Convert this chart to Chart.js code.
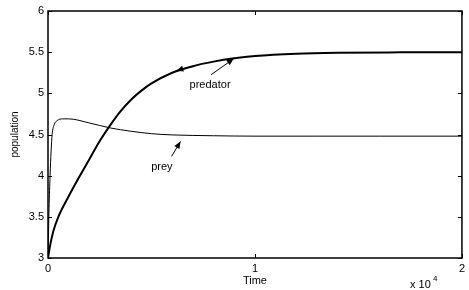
<!DOCTYPE html>
<html>
<head>
<meta charset="utf-8">
<script src="https://cdn.jsdelivr.net/npm/chart.js@4"></script>
<style>
  html, body { margin: 0; padding: 0; background: #fff; }
  #popChart { display: block; }
</style>
</head>
<body>
<canvas id="popChart" width="469" height="290"></canvas>
<script>
// time in units of 10^4
const preyTime = [0, 0.005, 0.01, 0.015, 0.02, 0.03, 0.045, 0.07, 0.1, 0.2, 0.3, 0.4, 0.5, 0.6, 0.8, 1.0, 1.3, 1.6, 2.0];
const preyValues = [3, 3.6, 4.0, 4.3, 4.5, 4.62, 4.67, 4.69, 4.69, 4.64, 4.58, 4.54, 4.51, 4.495, 4.485, 4.48, 4.48, 4.48, 4.48];

const predatorTime = [0, 0.01, 0.025, 0.05, 0.1, 0.15, 0.2, 0.25, 0.3, 0.35, 0.4, 0.45, 0.5, 0.6, 0.7, 0.8, 0.9, 1.0, 1.2, 1.4, 1.7, 2.0];
const predatorValues = [3, 3.15, 3.32, 3.5, 3.75, 3.98, 4.2, 4.42, 4.61, 4.78, 4.92, 5.03, 5.12, 5.25, 5.33, 5.385, 5.425, 5.452, 5.48, 5.492, 5.498, 5.5];

const xTicks = [0, 1, 2];
const yTicks = [3, 3.5, 4, 4.5, 5, 5.5, 6];

const toPoints = (xs, ys) => xs.map((x, i) => ({ x: x, y: ys[i] }));

// text annotations with arrows (data coordinates)
const labels = [
    { text: 'predator', x: 0.783, y: 5.105, from: [0.788, 5.226], to: [0.897, 5.42] },
    { text: 'prey', x: 0.55, y: 4.10, from: [0.597, 4.234], to: [0.64, 4.415] }
];

function arrowHead(ctx, x1, y1, x2, y2) {
    const a = Math.atan2(y2 - y1, x2 - x1);
    const len = 7, w = 3;
    ctx.beginPath();
    ctx.moveTo(x2, y2);
    ctx.lineTo(x2 - len * Math.cos(a) + w * Math.sin(a), y2 - len * Math.sin(a) - w * Math.cos(a));
    ctx.lineTo(x2 - len * Math.cos(a) - w * Math.sin(a), y2 - len * Math.sin(a) + w * Math.cos(a));
    ctx.closePath();
    ctx.fill();
}

const matlabAxes = {
    id: 'matlabAxes',
    afterDraw(chart) {
        const ctx = chart.ctx;
        const a = chart.chartArea;
        const xs = chart.scales.x, ys = chart.scales.y;
        ctx.save();
        ctx.strokeStyle = '#000';
        ctx.fillStyle = '#000';
        ctx.lineWidth = 1.5;
        ctx.strokeRect(a.left, a.top, a.right - a.left, a.bottom - a.top);

        // inward ticks
        ctx.lineWidth = 1;
        ctx.beginPath();
        xTicks.forEach(v => {
            const px = Math.round(xs.getPixelForValue(v)) + 0.5;
            ctx.moveTo(px, a.bottom); ctx.lineTo(px, a.bottom - 4);
            ctx.moveTo(px, a.top); ctx.lineTo(px, a.top + 4);
        });
        yTicks.forEach(v => {
            const py = Math.round(ys.getPixelForValue(v)) + 0.5;
            ctx.moveTo(a.left, py); ctx.lineTo(a.left + 4, py);
            ctx.moveTo(a.right, py); ctx.lineTo(a.right - 4, py);
        });
        ctx.stroke();

        // annotations
        ctx.font = '11px "Liberation Sans", Arial, sans-serif';
        ctx.textAlign = 'center';
        ctx.textBaseline = 'middle';
        labels.forEach(l => {
            ctx.fillText(l.text, xs.getPixelForValue(l.x), ys.getPixelForValue(l.y));
            const x1 = xs.getPixelForValue(l.from[0]), y1 = ys.getPixelForValue(l.from[1]);
            const x2 = xs.getPixelForValue(l.to[0]), y2 = ys.getPixelForValue(l.to[1]);
            ctx.beginPath();
            ctx.moveTo(x1, y1); ctx.lineTo(x2, y2);
            ctx.stroke();
            arrowHead(ctx, x1, y1, x2, y2);
        });
        // arrowhead sitting on the predator curve
        arrowHead(ctx, xs.getPixelForValue(0.68), ys.getPixelForValue(5.32),
            xs.getPixelForValue(0.62), ys.getPixelForValue(5.275));

        // axis titles
        ctx.fillText('Time', xs.getPixelForValue(1), 281);
        ctx.textAlign = 'left';
        ctx.fillText('x 10', 410, 285);
        ctx.font = '8px "Liberation Sans", Arial, sans-serif';
        ctx.fillText('4', 433, 279);
        ctx.save();
        ctx.translate(15, (a.top + a.bottom) / 2);
        ctx.rotate(-Math.PI / 2);
        ctx.textAlign = 'center';
        ctx.font = '10px "Liberation Sans", Arial, sans-serif';
        ctx.fillText('population', 0, 0);
        ctx.restore();
        ctx.restore();
    }
};

const ctx = document.getElementById('popChart').getContext('2d');

new Chart(ctx, {
    type: 'line',
    data: {
        datasets: [
            {
                label: 'prey',
                data: toPoints(preyTime, preyValues),
                borderColor: '#000',
                borderWidth: 1,
                pointRadius: 0,
                cubicInterpolationMode: 'monotone'
            },
            {
                label: 'predator',
                data: toPoints(predatorTime, predatorValues),
                borderColor: '#000',
                borderWidth: 2,
                pointRadius: 0,
                cubicInterpolationMode: 'monotone'
            }
        ]
    },
    options: {
        responsive: false,
        animation: false,
        devicePixelRatio: 1,
        layout: { padding: { top: 11, right: 2, left: 0, bottom: 0 } },
        plugins: {
            legend: { display: false },
            tooltip: { enabled: false }
        },
        scales: {
            x: {
                type: 'linear',
                min: 0,
                max: 2,
                afterBuildTicks: (scale) => { scale.ticks = xTicks.map(v => ({ value: v })); },
                afterFit: (scale) => { scale.height = 32; },
                grid: { display: false, drawTicks: false },
                border: { display: false },
                ticks: {
                    padding: 4,
                    color: '#000',
                    callback: (value) => String(value),
                    font: { family: '"Liberation Sans", Arial, sans-serif', size: 11 }
                }
            },
            y: {
                min: 3,
                max: 6,
                afterBuildTicks: (scale) => { scale.ticks = yTicks.map(v => ({ value: v })); },
                afterFit: (scale) => { scale.width = 48; },
                grid: { display: false, drawTicks: false },
                border: { display: false },
                ticks: {
                    padding: 4,
                    color: '#000',
                    callback: (value) => String(value),
                    font: { family: '"Liberation Sans", Arial, sans-serif', size: 11 }
                }
            }
        }
    },
    plugins: [matlabAxes]
});
</script>
</body>
</html>
